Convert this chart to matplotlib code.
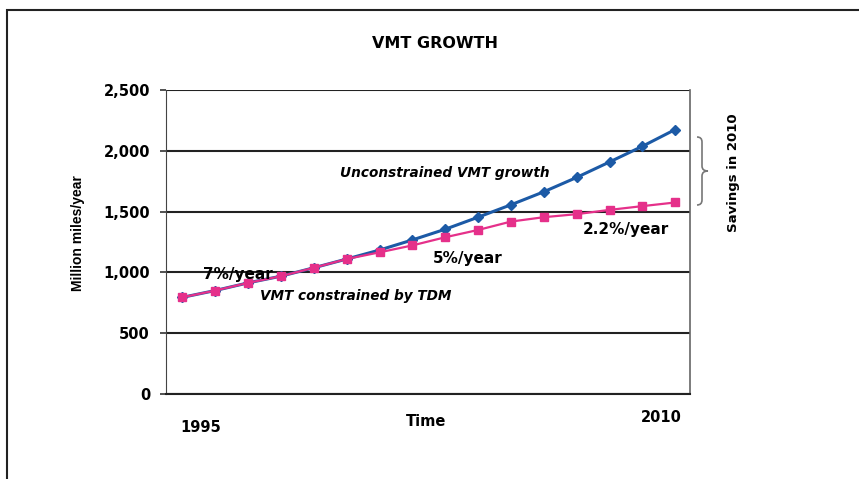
import matplotlib
matplotlib.use("Agg")
import matplotlib.pyplot as plt
from matplotlib.path import Path
from matplotlib.patches import PathPatch, Rectangle

# data (million miles / year)
years = list(range(1995, 2011))
vmt_constrained = [795, 851, 914, 969, 1038, 1110, 1165, 1222, 1289, 1349,
                   1418, 1454, 1479, 1514, 1545, 1575]
vmt_unconstrained = [795, 851, 914, 969, 1038, 1110, 1184, 1267, 1355, 1454,
                     1556, 1663, 1781, 1908, 2037, 2175]
yticks = [0, 500, 1000, 1500, 2000, 2500]

BLUE = "#1c5aa6"
PINK = "#e5308a"
BOLD = ["DejaVu Sans"]
plt.rcParams["font.family"] = ["DejaVu Sans"]

W, H = 859, 479
fig = plt.figure(figsize=(W / 100, H / 100), dpi=100)
ax = fig.add_axes([166 / W, 1 - 394 / H, (690 - 166) / W, (394 - 90) / H])

ax.plot(years, vmt_unconstrained, color=BLUE, lw=2.2, marker="D", ms=5,
        mfc=BLUE, mec=BLUE, zorder=3)
ax.plot(years, vmt_constrained, color=PINK, lw=1.6, marker="s", ms=6,
        mfc=PINK, mec=PINK, zorder=4)

ax.set_xlim(1994.5, 2010.45)
ax.set_ylim(0, 2500)
ax.set_yticks(yticks)
ax.set_yticklabels([f"{v:,}" for v in yticks], fontsize=10.5,
                   fontweight="bold")
ax.set_xticks([])
ax.grid(axis="y", color="#222222", lw=1.5)
ax.set_axisbelow(True)
ax.tick_params(axis="y", length=4.5, width=1.2, color="#333333", pad=7)
for s in ("top", "right"):
    ax.spines[s].set_visible(False)
ax.spines["left"].set_color("#444444")
ax.spines["bottom"].set_color("#222222")
ax.spines["bottom"].set_linewidth(1.5)
# right-hand frame line
ax.plot([1, 1], [0, 1], transform=ax.transAxes, color="#666666", lw=1.2,
        clip_on=False)


def fx(x):
    return x / W


def fy(y):
    return 1 - y / H


fig.text(fx(78), fy(233), "Million miles/year", ha="center", va="center",
         rotation=90, fontsize=10, fontweight="bold", family="Liberation Sans")
fig.text(fx(435), fy(43), "VMT GROWTH", ha="center", va="center",
         fontsize=11.5, fontweight="bold")
fig.text(fx(201), fy(427), "1995", ha="center", va="center", fontsize=10.5,
         fontweight="bold")
fig.text(fx(426), fy(422), "Time", ha="center", va="center", fontsize=10.5,
         fontweight="bold")
fig.text(fx(661), fy(417), "2010", ha="center", va="center", fontsize=10.5,
         fontweight="bold")
fig.text(fx(733), fy(173), "Savings in 2010", ha="center", va="center",
         rotation=90, fontsize=9.5, fontweight="bold")

fig.text(fx(340), fy(173), "Unconstrained VMT growth", ha="left",
         va="center", fontsize=9.8, fontweight="bold", style="italic")
fig.text(fx(260), fy(296), "VMT constrained by TDM", ha="left",
         va="center", fontsize=9.8, fontweight="bold", style="italic")
fig.text(fx(583), fy(230), "2.2%/year", ha="left", va="center",
         fontsize=11, fontweight="bold")
fig.text(fx(433), fy(259), "5%/year", ha="left", va="center",
         fontsize=11, fontweight="bold")
fig.text(fx(203), fy(275), "7%/year", ha="left", va="center",
         fontsize=11, fontweight="bold", zorder=1)

# curly brace between the 2010 values
xa, xb, xt = 697, 702, 708
yt, yb = 137, 205
ym = (yt + yb) / 2
pts = [(xa, yt), (xb, yt), (xb, yt + 5), (xb, ym - 5), (xb, ym), (xt, ym),
       (xb, ym), (xb, ym + 5), (xb, yb - 5), (xb, yb), (xa, yb)]
codes = [Path.MOVETO, Path.CURVE3, Path.CURVE3, Path.LINETO, Path.CURVE3,
         Path.CURVE3, Path.CURVE3, Path.CURVE3, Path.LINETO, Path.CURVE3,
         Path.CURVE3]
pts = [(fx(a), fy(b)) for a, b in pts]
fig.add_artist(PathPatch(Path(pts, codes), transform=fig.transFigure,
                         fill=False, edgecolor="#777777", lw=1.2))

# outer frame of the figure
fig.add_artist(Rectangle((fx(7), fy(520)), fx(900), fy(10) - fy(520),
                         transform=fig.transFigure, fill=False,
                         edgecolor="#222222", lw=1.5))

fig.savefig("out.png", dpi=100)
